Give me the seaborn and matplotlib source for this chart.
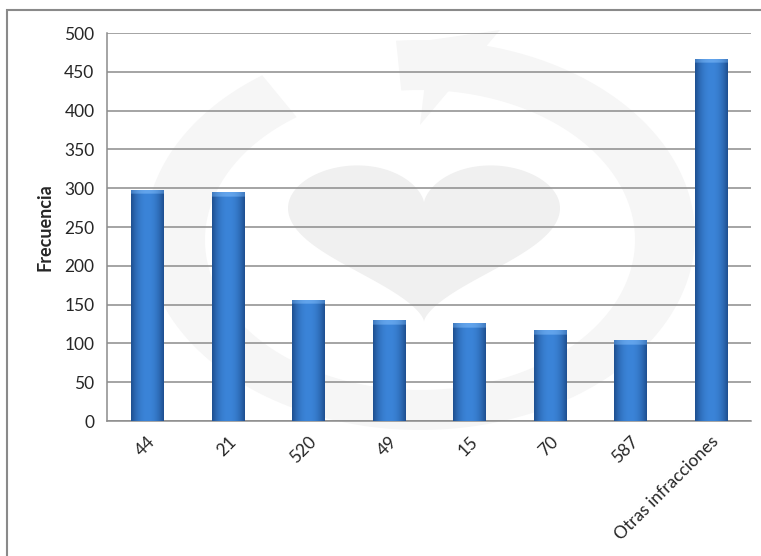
import numpy as np
import pandas as pd
import matplotlib
matplotlib.use('Agg')
import matplotlib.pyplot as plt
import seaborn as sns
from matplotlib.colors import to_rgb
from matplotlib.patches import Rectangle, Polygon

# datos de la grafica
categorias = ['44', '21', '520', '49', '15', '70', '587', 'Otras infracciones']
frecuencias = [298, 295, 156, 130, 126, 117, 104, 467]
yticks = list(range(0, 501, 50))

sns.set_style('white')
plt.rcParams['font.family'] = ['Lato', 'DejaVu Sans']

W, H = 761, 556
fig = plt.figure(figsize=(W / 100, H / 100), dpi=100)


def px(x, y):
    # pixeles de la imagen -> fraccion de la figura
    return x / W, 1 - y / H


# marca de agua (corazon y flecha circular), muy tenue
t = np.linspace(0, 2 * np.pi, 300)
hx = 16 * np.sin(t) ** 3
hy = 13 * np.cos(t) - 5 * np.cos(2 * t) - 2 * np.cos(3 * t) - np.cos(4 * t)
heart = [px(424 + 8.5 * a, 165 + (12 - b) * 5.4) for a, b in zip(hx, hy)]
fig.patches.append(Polygon(heart, closed=True, transform=fig.transFigure,
                           facecolor='#f0f0f0', edgecolor='none', zorder=-2))

ang = np.radians(np.linspace(95, -235, 200))
outer = [px(420 + 275 * np.cos(a), 235 - 195 * np.sin(a)) for a in ang]
inner = [px(420 + 215 * np.cos(a), 240 - 150 * np.sin(a)) for a in ang[::-1]]
fig.patches.append(Polygon(outer + inner, closed=True, transform=fig.transFigure,
                           facecolor='#f6f6f6', edgecolor='none', zorder=-3))
arrow = [px(500, 30), px(420, 125), px(430, 40)]
fig.patches.append(Polygon(arrow, closed=True, transform=fig.transFigure,
                           facecolor='#f6f6f6', edgecolor='none', zorder=-3))

# marco exterior
fig.patches.append(Rectangle(px(7, 600), 800 / W, 590 / H, transform=fig.transFigure,
                             fill=False, edgecolor='#8a8a8a', lw=1.5, zorder=-1))

l, r_, top, bot = 107, 751, 33, 421
ax = fig.add_axes([l / W, 1 - bot / H, (r_ - l) / W, (bot - top) / H])
ax.patch.set_visible(False)

df = pd.DataFrame({'infraccion': categorias, 'frecuencia': frecuencias})
sns.barplot(data=df, x='infraccion', y='frecuencia', color='#2f6cc0',
            width=0.4, ax=ax, zorder=3, edgecolor='none')

# degradado cilindrico en cada barra
dark = np.array(to_rgb('#1e4f90'))
light = np.array(to_rgb('#3b84d8'))
cap = np.array(to_rgb('#62a4ec'))
xs = np.linspace(-1, 1, 60)
shade = (1 - np.abs(xs) ** 2.2)[None, :, None]
for p in list(ax.patches):
    x0, w, h = p.get_x(), p.get_width(), p.get_height()
    rows = max(int(h), 2)
    img = np.repeat(dark + (light - dark) * shade, rows, axis=0)
    ncap = 6
    base = dark * 0.5 + cap * 0.5
    img[:ncap] = base + (cap - base) * shade[0]
    im = ax.imshow(img, extent=(x0, x0 + w, 0, h), aspect='auto',
                   origin='upper', zorder=4, interpolation='bilinear')
    im.set_clip_path(p)

ax.set_xlim(-0.5, len(categorias) - 0.5)
ax.set_ylim(0, 500)
ax.set_yticks(yticks)
ax.yaxis.grid(True, color='#8c8c8c', lw=1.1)
ax.set_axisbelow(True)

for s in ['top', 'right']:
    ax.spines[s].set_visible(False)
for s in ['left', 'bottom']:
    ax.spines[s].set_color('#8c8c8c')
    ax.spines[s].set_linewidth(1.1)

ax.set_xticks(range(len(categorias)))
ax.set_xticklabels(categorias, rotation=45, ha='right', rotation_mode='anchor',
                   fontsize=12.5)
ax.set_xticks(np.arange(-0.5, len(categorias), 1), minor=True)
ax.tick_params(axis='x', which='major', length=0, pad=9)
ax.tick_params(axis='x', which='minor', length=5, color='#8c8c8c', width=1.1, direction='out')
ax.tick_params(axis='y', length=5, color='#8c8c8c', width=1.1, direction='out',
               labelsize=12.5, pad=4)
ax.set_xlabel('')
ax.set_ylabel('Frecuencia', fontsize=13, fontweight='bold', labelpad=8)

fig.savefig('out.png', dpi=100)
